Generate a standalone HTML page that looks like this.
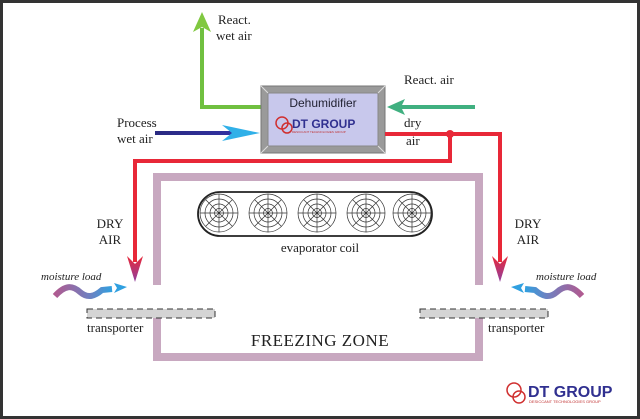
<!DOCTYPE html>
<html><head><style>
body{margin:0;width:640px;height:419px;overflow:hidden;background:#fff}
svg{display:block}
text{font-family:"Liberation Serif",serif;fill:#222}
.s{font-family:"Liberation Sans",sans-serif}
</style></head><body>
<svg width="640" height="419" viewBox="0 0 640 419">
<defs>
<linearGradient id="bl" gradientUnits="userSpaceOnUse" x1="155" y1="0" x2="260" y2="0"><stop offset="0" stop-color="#2a2a80"/><stop offset="0.7" stop-color="#3030a0"/><stop offset="1" stop-color="#30c0f0"/></linearGradient>
<linearGradient id="ml" x1="0" x2="1"><stop offset="0" stop-color="#b05a90"/><stop offset="0.6" stop-color="#7080c0"/><stop offset="1" stop-color="#30a0e0"/></linearGradient>
<linearGradient id="mr" x1="1" x2="0"><stop offset="0" stop-color="#b05a90"/><stop offset="0.6" stop-color="#7080c0"/><stop offset="1" stop-color="#30a0e0"/></linearGradient>
<linearGradient id="rd" x1="0" y1="0" x2="0" y2="1"><stop offset="0" stop-color="#e82838"/><stop offset="1" stop-color="#9040a0"/></linearGradient>
<g id="fan" fill="none" stroke="#333" stroke-width="0.7">
<circle r="19"/><circle r="14"/><circle r="9"/><circle r="4.5"/>
<path d="M-19 0H19M0-19V19M-13.4-13.4L13.4 13.4M-13.4 13.4L13.4-13.4"/>
</g>
</defs>
<rect x="1.5" y="1.5" width="637" height="416" fill="none" stroke="#333" stroke-width="3"/>
<path d="M262 107H202V28" fill="none" stroke="#70c040" stroke-width="4"/>
<path d="M202 12L193 32L202 27L211 32Z" fill="#80c840"/>
<text x="218" y="24" font-size="13">React.</text>
<text x="216" y="40" font-size="13">wet air</text>
<path d="M475 107H395" stroke="#40b080" stroke-width="4"/>
<path d="M387 107L405 99L401 107L405 115Z" fill="#40b080"/>
<text x="404" y="84" font-size="13">React. air</text>
<path d="M155 133H245" stroke="url(#bl)" stroke-width="4"/>
<path d="M260 133L222 125L232 133L222 141Z" fill="#30b0e8"/>
<text x="117" y="127" font-size="13">Process</text>
<text x="117" y="143" font-size="13">wet air</text>
<rect x="261" y="86" width="124" height="67" fill="#9a9a9a" stroke="#777"/>
<rect x="268" y="93" width="110" height="53" fill="#c8c8ec" stroke="#888"/>
<path d="M261 86L268 93M385 86L378 93M261 153L268 146M385 153L378 146" stroke="#ddd"/>
<text x="323" y="107" font-size="12" text-anchor="middle" class="s" style="fill:#223">Dehumidifier</text>
<circle cx="282" cy="123" r="6" fill="none" stroke="#d03030" stroke-width="1.5"/>
<circle cx="287" cy="128" r="5" fill="none" stroke="#d03030" stroke-width="1.5"/>
<text x="292" y="128" font-size="12" font-weight="bold" class="s" style="fill:#303090">DT GROUP</text>
<text x="292" y="133" font-size="3" class="s" style="fill:#c03030">DESICCANT TECHNOLOGIES GROUP</text>
<path d="M385 134H500V262M450 134V161H135V262" fill="none" stroke="#e82838" stroke-width="4"/>
<circle cx="450" cy="134" r="4" fill="#e82838"/>
<path d="M135 282L127 256L135 264L143 256Z" fill="url(#rd)"/>
<path d="M500 282L492 256L500 264L508 256Z" fill="url(#rd)"/>
<text x="404" y="127" font-size="13">dry</text>
<text x="406" y="145" font-size="13">air</text>
<path d="M157 285V177H479V285M157 318V357H479V318" fill="none" stroke="#c8a8c0" stroke-width="8"/>
<rect x="198" y="192" width="234" height="44" rx="22" fill="none" stroke="#222" stroke-width="1.8"/>
<use href="#fan" x="219" y="213"/><use href="#fan" x="268" y="213"/><use href="#fan" x="317" y="213"/><use href="#fan" x="366" y="213"/><use href="#fan" x="412" y="213"/>
<text x="320" y="252" font-size="13" text-anchor="middle">evaporator coil</text>
<text x="110" y="228" font-size="13" text-anchor="middle">DRY</text>
<text x="110" y="244" font-size="13" text-anchor="middle">AIR</text>
<text x="528" y="228" font-size="13" text-anchor="middle">DRY</text>
<text x="528" y="244" font-size="13" text-anchor="middle">AIR</text>
<rect x="87" y="309" width="128" height="9" fill="#d4d4d4" stroke="#333" stroke-dasharray="6,4"/>
<rect x="420" y="309" width="128" height="9" fill="#d4d4d4" stroke="#333" stroke-dasharray="6,4"/>
<text x="87" y="332" font-size="13">transporter</text>
<text x="488" y="332" font-size="13">transporter</text>
<text x="320" y="346" font-size="17" text-anchor="middle" letter-spacing="0.5">FREEZING ZONE</text>
<text x="41" y="280" font-size="11" font-style="italic">moisture load</text>
<text x="536" y="280" font-size="11" font-style="italic">moisture load</text>
<path d="M55 296C65 285 72 285 80 292C88 299 95 296 102 290L112 289" fill="none" stroke="url(#ml)" stroke-width="6"/>
<path d="M127 287L114 283L117 288L114 293Z" fill="#30a0e0"/>
<path d="M582 296C572 285 565 285 557 292C549 299 542 296 535 290L525 289" fill="none" stroke="url(#mr)" stroke-width="6"/>
<path d="M511 287L524 283L521 288L524 293Z" fill="#30a0e0"/>
<circle cx="514" cy="390" r="7" fill="none" stroke="#d03030" stroke-width="1.5"/>
<circle cx="519" cy="397" r="6" fill="none" stroke="#d03030" stroke-width="1.5"/>
<text x="528" y="397" font-size="16" font-weight="bold" class="s" style="fill:#303090">DT GROUP</text>
<text x="529" y="403" font-size="4" class="s" style="fill:#c03030">DESICCANT TECHNOLOGIES GROUP</text>
</svg>
</body></html>
